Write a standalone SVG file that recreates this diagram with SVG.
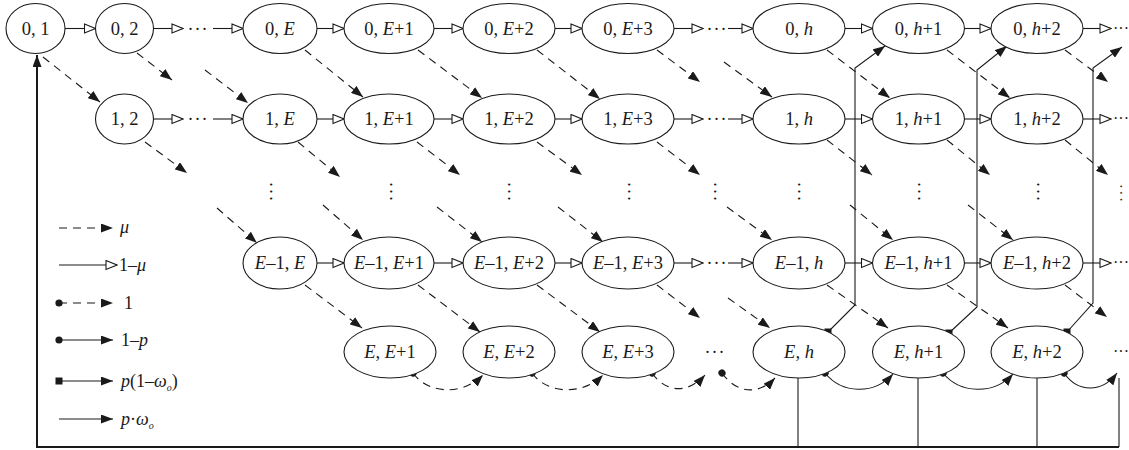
<svg xmlns="http://www.w3.org/2000/svg" width="1129" height="450" viewBox="0 0 1129 450">
  <style>
    .node ellipse { fill: #fff; stroke: #1a1a1a; stroke-width: 1.1; }
    .lbl { font-family: "Liberation Serif", "Times New Roman", serif; font-size: 18.5px; fill: #1a1a1a; text-anchor: middle; }
    .it { font-style: italic; }
    .ln { fill: none; stroke: #1a1a1a; stroke-width: 1.1; }
    .dash { stroke-dasharray: 8 6; }
    .mu { marker-end: url(#arrowF); }
    .one { marker-end: url(#arrowO); }
    .heavy { fill: none; stroke: #1a1a1a; stroke-width: 2; }
    .dots { font-family: "Liberation Serif", "Times New Roman", serif; font-size: 18px; fill: #1a1a1a; text-anchor: middle; letter-spacing: 1px; }
    .edge { text-anchor: start; letter-spacing: 0; font-size: 16px; }
    .small { font-size: 14px; letter-spacing: 2px; }
    .leg { font-family: "Liberation Serif", "Times New Roman", serif; font-size: 18px; fill: #1a1a1a; }
  </style>
  <defs>
    <marker id="arrowF" viewBox="0 0 12 9" refX="12" refY="4.5" markerWidth="12" markerHeight="9" markerUnits="userSpaceOnUse" orient="auto">
      <path d="M0,0 L12,4.5 L0,9 Z" fill="#1a1a1a"/>
    </marker>
    <marker id="arrowO" viewBox="-1 -1 13 11" refX="11" refY="4.5" markerWidth="13" markerHeight="11" markerUnits="userSpaceOnUse" orient="auto">
      <path d="M0,0 L11,4.5 L0,9 Z" fill="#fff" stroke="#1a1a1a" stroke-width="1.1"/>
    </marker>
    <marker id="dot" viewBox="0 0 8 8" refX="4" refY="4" markerWidth="8" markerHeight="8" markerUnits="userSpaceOnUse" orient="auto">
      <circle cx="4" cy="4" r="3.6" fill="#1a1a1a"/>
    </marker>
    <marker id="sq" viewBox="0 0 8 8" refX="4" refY="4" markerWidth="8" markerHeight="8" markerUnits="userSpaceOnUse" orient="0">
      <rect x="0.5" y="0.5" width="7" height="7" fill="#1a1a1a"/>
    </marker>
  </defs>

  <!-- connectors -->
  <g id="connectors">
    <!-- 1-mu transitions along each row -->
    <g class="horiz">
      <path class="ln one" d="M65,28.5 H95.5"/>
      <path class="ln one" d="M153.5,28.5 H183"/>
      <path class="ln one" d="M213,28.5 H243"/>
      <path class="ln one" d="M317,28.5 H344"/>
      <path class="ln one" d="M434,28.5 H463"/>
      <path class="ln one" d="M555,28.5 H582"/>
      <path class="ln one" d="M674,28.5 H703"/>
      <path class="ln one" d="M728,28.5 H753"/>
      <path class="ln one" d="M845,28.5 H872.5"/>
      <path class="ln one" d="M964.5,28.5 H991"/>
      <path class="ln one" d="M1083,28.5 H1111"/>

      <path class="ln one" d="M153.5,119 H183"/>
      <path class="ln one" d="M213,119 H243"/>
      <path class="ln one" d="M317,119 H344"/>
      <path class="ln one" d="M434,119 H463"/>
      <path class="ln one" d="M555,119 H582"/>
      <path class="ln one" d="M674,119 H703"/>
      <path class="ln one" d="M728,119 H753"/>
      <path class="ln one" d="M845,119 H872.5"/>
      <path class="ln one" d="M964.5,119 H991"/>
      <path class="ln one" d="M1083,119 H1111"/>

      <path class="ln one" d="M317,263 H344"/>
      <path class="ln one" d="M434,263 H463"/>
      <path class="ln one" d="M555,263 H582"/>
      <path class="ln one" d="M674,263 H703"/>
      <path class="ln one" d="M728,263 H753"/>
      <path class="ln one" d="M845,263 H872.5"/>
      <path class="ln one" d="M964.5,263 H991"/>
      <path class="ln one" d="M1083,263 H1111"/>
    </g>

    <!-- mu transitions, down-right -->
    <g class="diag">
      <path class="ln dash mu" d="M43,57 L100,102"/>
      <path class="ln dash mu" d="M137,53 L172,80"/>
      <path class="ln dash mu" d="M205,70 L248,103"/>
      <path class="ln dash mu" d="M305,50 L363,97"/>
      <path class="ln dash mu" d="M418,50 L482,98"/>
      <path class="ln dash mu" d="M537,50 L600,99"/>
      <path class="ln dash mu" d="M657,50 L700,82"/>
      <path class="ln dash mu" d="M724,62 L772,97"/>
      <path class="ln dash mu" d="M827,50 L890,98"/>
      <path class="ln dash mu" d="M947,50 L1010,98"/>
      <path class="ln dash mu" d="M1065,50 L1108,82"/>

      <path class="ln dash mu" d="M145,142 L187,173"/>
      <path class="ln dash mu" d="M298,142 L340,177"/>
      <path class="ln dash mu" d="M417,142 L460,175"/>
      <path class="ln dash mu" d="M537,142 L582,175"/>
      <path class="ln dash mu" d="M657,142 L700,175"/>
      <path class="ln dash mu" d="M827,140 L872,175"/>
      <path class="ln dash mu" d="M947,140 L990,175"/>
      <path class="ln dash mu" d="M1065,140 L1108,175"/>

      <path class="ln dash mu" d="M217,208 L257,243"/>
      <path class="ln dash mu" d="M323,205 L363,240"/>
      <path class="ln dash mu" d="M437,207 L482,242"/>
      <path class="ln dash mu" d="M558,207 L603,242"/>
      <path class="ln dash mu" d="M727,207 L772,240"/>
      <path class="ln dash mu" d="M850,205 L893,240"/>
      <path class="ln dash mu" d="M968,205 L1013,240"/>

      <path class="ln dash mu" d="M305,285 L362,328"/>
      <path class="ln dash mu" d="M418,285 L480,332"/>
      <path class="ln dash mu" d="M537,285 L600,332"/>
      <path class="ln dash mu" d="M657,285 L700,318"/>
      <path class="ln dash mu" d="M728,298 L770,328"/>
      <path class="ln dash mu" d="M827,285 L888,328"/>
      <path class="ln dash mu" d="M947,285 L1008,328"/>
      <path class="ln dash mu" d="M1065,285 L1107,317"/>
    </g>

    <!-- bottom row: probability 1 (dashed) and 1-p (solid) -->
    <g class="loops">
      <path class="ln dash" marker-start="url(#dot)" marker-end="url(#arrowF)" d="M413,373 C428,394 462,396 483,375"/>
      <path class="ln dash" marker-start="url(#dot)" marker-end="url(#arrowF)" d="M532,373 C547,394 582,396 603,375"/>
      <path class="ln dash" marker-start="url(#dot)" marker-end="url(#arrowF)" d="M652,373 C666,393 688,394 705,375"/>
      <path class="ln dash" marker-start="url(#dot)" marker-end="url(#arrowF)" d="M722,373 C736,393 758,396 775,378"/>
      <path class="ln" marker-start="url(#dot)" marker-end="url(#arrowF)" d="M825,373 C842,394 874,395 893,374"/>
      <path class="ln" marker-start="url(#dot)" marker-end="url(#arrowF)" d="M943,373 C960,394 994,395 1013,374"/>
      <path class="ln" marker-start="url(#dot)" marker-end="url(#arrowF)" d="M1064,373 C1078,393 1102,393 1117,373"/>
    </g>

    <!-- p(1-omega_o) jumps back to row 0 -->
    <g class="jumps">
      <path class="ln" marker-start="url(#sq)" marker-end="url(#arrowF)" d="M828,332 L855,305 L855,68 L885,46"/>
      <path class="ln" marker-start="url(#sq)" marker-end="url(#arrowF)" d="M949,333 L977,307 L977,70 L1007,46"/>
      <path class="ln" marker-start="url(#sq)" marker-end="url(#arrowF)" d="M1067,332 L1093,303 L1093,68 L1122,47"/>
    </g>

    <!-- p*omega_o return to state (0,1) -->
    <g class="return">
      <path class="ln" d="M798,377 V447"/>
      <path class="ln" d="M918,377 V447"/>
      <path class="ln" d="M1037,377 V447"/>
      <path class="ln" d="M1119,378 V447"/>
      <path class="heavy" marker-end="url(#arrowF)" d="M1119,447 H37 V55"/>
    </g>
  </g>

  <!-- ellipsis marks -->
  <g id="ellipses">
    <text class="dots" x="198" y="34.5">···</text>
    <text class="dots" x="717" y="34.5">···</text>
    <text class="dots edge" x="1113" y="33.5">···</text>
    <text class="dots" x="198" y="125">···</text>
    <text class="dots" x="717" y="125">···</text>
    <text class="dots edge" x="1113" y="124">···</text>
    <text class="dots" x="717" y="269">···</text>
    <text class="dots edge" x="1113" y="268">···</text>
    <text class="dots" x="715" y="358">···</text>
    <text class="dots edge" x="1113" y="357">···</text>
    <g class="vdots">
      <text class="dots" transform="translate(270,192) rotate(90)" y="5.5">···</text>
      <text class="dots" transform="translate(390,192) rotate(90)" y="5.5">···</text>
      <text class="dots" transform="translate(508,192) rotate(90)" y="5.5">···</text>
      <text class="dots" transform="translate(628,192) rotate(90)" y="5.5">···</text>
      <text class="dots" transform="translate(714,192) rotate(90)" y="5.5">···</text>
      <text class="dots" transform="translate(798,192) rotate(90)" y="5.5">···</text>
      <text class="dots" transform="translate(918,192) rotate(90)" y="5.5">···</text>
      <text class="dots" transform="translate(1037,192) rotate(90)" y="5.5">···</text>
      <text class="dots small" transform="translate(1121,192) rotate(-90)" y="4.5">···</text>
    </g>
  </g>

  <!-- row 0 -->
  <g id="n0_1" class="node"><ellipse cx="35.5" cy="28.5" rx="29.5" ry="25"/><text class="lbl" x="35.5" y="34.5">0, 1</text></g>
  <g id="n0_2" class="node"><ellipse cx="124.5" cy="28.5" rx="29" ry="25"/><text class="lbl" x="124.5" y="34.5">0, 2</text></g>
  <g id="n0_E" class="node"><ellipse cx="280" cy="28.5" rx="37" ry="25"/><text class="lbl" x="280" y="34.5">0, <tspan class="it">E</tspan></text></g>
  <g id="n0_E1" class="node"><ellipse cx="389" cy="28.5" rx="45" ry="25"/><text class="lbl" x="389" y="34.5">0, <tspan class="it">E</tspan>+1</text></g>
  <g id="n0_E2" class="node"><ellipse cx="509" cy="28.5" rx="46" ry="25"/><text class="lbl" x="509" y="34.5">0, <tspan class="it">E</tspan>+2</text></g>
  <g id="n0_E3" class="node"><ellipse cx="628" cy="28.5" rx="46" ry="25"/><text class="lbl" x="628" y="34.5">0, <tspan class="it">E</tspan>+3</text></g>
  <g id="n0_h" class="node"><ellipse cx="799" cy="28.5" rx="46" ry="25"/><text class="lbl" x="799" y="34.5">0, <tspan class="it">h</tspan></text></g>
  <g id="n0_h1" class="node"><ellipse cx="918.5" cy="28.5" rx="46" ry="25"/><text class="lbl" x="918.5" y="34.5">0, <tspan class="it">h</tspan>+1</text></g>
  <g id="n0_h2" class="node"><ellipse cx="1037" cy="28.5" rx="46" ry="25"/><text class="lbl" x="1037" y="34.5">0, <tspan class="it">h</tspan>+2</text></g>

  <!-- row 1 -->
  <g id="n1_2" class="node"><ellipse cx="124.5" cy="119" rx="29" ry="25"/><text class="lbl" x="124.5" y="125">1, 2</text></g>
  <g id="n1_E" class="node"><ellipse cx="280" cy="119" rx="37" ry="25"/><text class="lbl" x="280" y="125">1, <tspan class="it">E</tspan></text></g>
  <g id="n1_E1" class="node"><ellipse cx="389" cy="119" rx="45" ry="25"/><text class="lbl" x="389" y="125">1, <tspan class="it">E</tspan>+1</text></g>
  <g id="n1_E2" class="node"><ellipse cx="509" cy="119" rx="46" ry="25"/><text class="lbl" x="509" y="125">1, <tspan class="it">E</tspan>+2</text></g>
  <g id="n1_E3" class="node"><ellipse cx="628" cy="119" rx="46" ry="25"/><text class="lbl" x="628" y="125">1, <tspan class="it">E</tspan>+3</text></g>
  <g id="n1_h" class="node"><ellipse cx="799" cy="119" rx="46" ry="25"/><text class="lbl" x="799" y="125">1, <tspan class="it">h</tspan></text></g>
  <g id="n1_h1" class="node"><ellipse cx="918.5" cy="119" rx="46" ry="25"/><text class="lbl" x="918.5" y="125">1, <tspan class="it">h</tspan>+1</text></g>
  <g id="n1_h2" class="node"><ellipse cx="1037" cy="119" rx="46" ry="25"/><text class="lbl" x="1037" y="125">1, <tspan class="it">h</tspan>+2</text></g>

  <!-- row E-1 -->
  <g id="nEm1_E" class="node"><ellipse cx="280" cy="263" rx="37" ry="26"/><text class="lbl" x="280" y="269"><tspan class="it">E</tspan>–1, <tspan class="it">E</tspan></text></g>
  <g id="nEm1_E1" class="node"><ellipse cx="389" cy="263" rx="45" ry="26"/><text class="lbl" x="389" y="269"><tspan class="it">E</tspan>–1, <tspan class="it">E</tspan>+1</text></g>
  <g id="nEm1_E2" class="node"><ellipse cx="509" cy="263" rx="46" ry="26"/><text class="lbl" x="509" y="269"><tspan class="it">E</tspan>–1, <tspan class="it">E</tspan>+2</text></g>
  <g id="nEm1_E3" class="node"><ellipse cx="628" cy="263" rx="46" ry="26"/><text class="lbl" x="628" y="269"><tspan class="it">E</tspan>–1, <tspan class="it">E</tspan>+3</text></g>
  <g id="nEm1_h" class="node"><ellipse cx="799" cy="263" rx="46" ry="26"/><text class="lbl" x="799" y="269"><tspan class="it">E</tspan>–1, <tspan class="it">h</tspan></text></g>
  <g id="nEm1_h1" class="node"><ellipse cx="918.5" cy="263" rx="46" ry="26"/><text class="lbl" x="918.5" y="269"><tspan class="it">E</tspan>–1, <tspan class="it">h</tspan>+1</text></g>
  <g id="nEm1_h2" class="node"><ellipse cx="1037" cy="263" rx="46" ry="26"/><text class="lbl" x="1037" y="269"><tspan class="it">E</tspan>–1, <tspan class="it">h</tspan>+2</text></g>

  <!-- row E -->
  <g id="nE_E1" class="node"><ellipse cx="390" cy="352" rx="46" ry="26"/><text class="lbl" x="390" y="358"><tspan class="it">E</tspan>, <tspan class="it">E</tspan>+1</text></g>
  <g id="nE_E2" class="node"><ellipse cx="509" cy="352" rx="46" ry="26"/><text class="lbl" x="509" y="358"><tspan class="it">E</tspan>, <tspan class="it">E</tspan>+2</text></g>
  <g id="nE_E3" class="node"><ellipse cx="628" cy="352" rx="46" ry="26"/><text class="lbl" x="628" y="358"><tspan class="it">E</tspan>, <tspan class="it">E</tspan>+3</text></g>
  <g id="nE_h" class="node"><ellipse cx="799" cy="352" rx="46" ry="26"/><text class="lbl" x="799" y="358"><tspan class="it">E</tspan>, <tspan class="it">h</tspan></text></g>
  <g id="nE_h1" class="node"><ellipse cx="918.5" cy="352" rx="46" ry="26"/><text class="lbl" x="918.5" y="358"><tspan class="it">E</tspan>, <tspan class="it">h</tspan>+1</text></g>
  <g id="nE_h2" class="node"><ellipse cx="1037" cy="352" rx="46" ry="26"/><text class="lbl" x="1037" y="358"><tspan class="it">E</tspan>, <tspan class="it">h</tspan>+2</text></g>

  <!-- legend -->
  <g id="legend">
    <path class="ln dash mu" d="M59,228 H113"/>
    <text class="leg it" x="120" y="233">μ</text>
    <path class="ln one" d="M59,265 H117"/>
    <text class="leg" x="119" y="271">1–<tspan class="it">μ</tspan></text>
    <path class="ln dash mu" marker-start="url(#dot)" d="M59,303 H113"/>
    <text class="leg" x="124" y="309">1</text>
    <path class="ln mu" marker-start="url(#dot)" d="M59,340 H113"/>
    <text class="leg" x="121" y="346">1–<tspan class="it">p</tspan></text>
    <path class="ln mu" marker-start="url(#sq)" d="M59,381 H113"/>
    <text class="leg" x="121" y="387"><tspan class="it">p</tspan>(1–<tspan class="it">ω</tspan><tspan class="it" font-size="10" dy="4">o</tspan><tspan dy="-4">)</tspan></text>
    <path class="ln mu" d="M59,419 H113"/>
    <text class="leg" x="121" y="425"><tspan class="it">p</tspan>·<tspan class="it">ω</tspan><tspan class="it" font-size="10" dy="4">o</tspan></text>
  </g>
</svg>
